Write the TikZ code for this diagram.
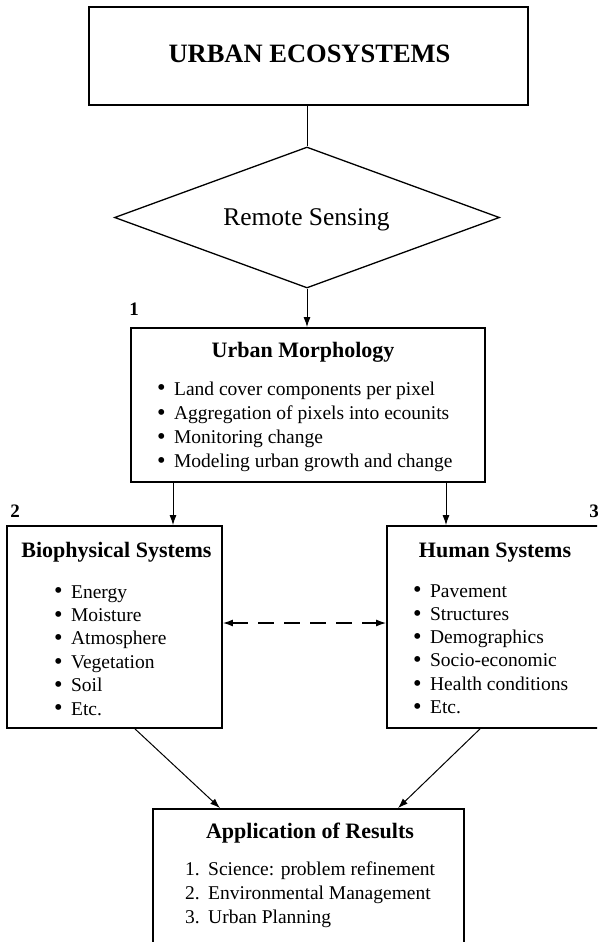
\documentclass[tikz,border=0pt]{standalone}
\usepackage{fontspec}
\setmainfont{Liberation Serif}
\usetikzlibrary{shapes.geometric,arrows.meta}
\newcommand\itembul{\raisebox{-0.8pt}{\scalebox{1.25}{\textbullet}}\hspace{8.6pt}}
\begin{document}
\begin{tikzpicture}[x=1pt,y=-1pt,
  box/.style={draw, line width=1.8pt, rectangle, inner sep=0pt},
  ttl/.style={font=\fontsize{22}{26}\selectfont\bfseries, anchor=base, inner sep=0pt},
  itm/.style={font=\fontsize{19.5}{23}\selectfont, anchor=base west, inner sep=0pt},
  num/.style={font=\fontsize{19}{22}\selectfont\bfseries, anchor=base, inner sep=0pt},
  link/.style={line width=1pt, -{Latex[length=10pt,width=7pt]}},
  twoway/.style={line width=1.3pt, dash pattern=on 16pt off 10pt,
    {Latex[length=10pt,width=7pt]}-{Latex[length=10pt,width=7pt]}},
]
\useasboundingbox (0,0) rectangle (597,942);
\clip (0,0) rectangle (597,942);

% frames
\node[box, line width=2pt, minimum width=439pt, minimum height=98pt] (eco) at (308.5,56) {};
\node[draw, diamond, shape aspect=2.73, line width=1.3pt, inner sep=0pt,
      minimum width=385pt, minimum height=141pt] (rs) at (307,217.5) {};
\node[box, minimum width=354pt, minimum height=154pt] (morph) at (308,405) {};
\node[box, minimum width=215pt, minimum height=202pt] (bio) at (114.5,627) {};
\node[box, minimum width=219pt, minimum height=202pt] (human) at (496.5,627) {};
\node[box, minimum width=311pt, minimum height=151pt] (app) at (308.5,884.5) {};

% headings
\node[anchor=base, inner sep=0pt, font=\fontsize{26.5}{30}\selectfont\bfseries]
  (ecot) at (309.5,63) {URBAN ECOSYSTEMS};
\node[anchor=base, inner sep=0pt, font=\fontsize{25.5}{30}\selectfont]
  (rst) at (306.5,225) {Remote Sensing};
\node[ttl] (morpht) at (303,357) {Urban Morphology};
\node[ttl] (biot) at (116.5,557) {Biophysical Systems};
\node[ttl] (humant) at (495,557) {Human Systems};
\node[ttl] (appt) at (310,838) {Application of Results};

% numbers
\node[num] (n1) at (134,315) {1};
\node[num] (n2) at (15,517) {2};
\node[num] (n3) at (594,517) {3};

% lists
\foreach \t [count=\i] in {Land cover components per pixel,
    Aggregation of pixels into ecounits, Monitoring change,
    Modeling urban growth and change}
  \node[itm] (m\i) at (156.8,{395+24.3*(\i-1)}) {\itembul\t};
\foreach \t [count=\i] in {Energy, Moisture, Atmosphere, Vegetation, Soil, Etc.}
  \node[itm] (b\i) at (53.8,{598+23.4*(\i-1)}) {\itembul\t};
\foreach \t [count=\i] in {Pavement, Structures, Demographics, Socio-economic,
    Health conditions, Etc.}
  \node[itm] (h\i) at (412.8,{597+23.3*(\i-1)}) {\itembul\t};
\node[itm] (a1) at (185,875) {\makebox[23pt][l]{1.}Science: problem refinement};
\node[itm] (a2) at (185,899) {\makebox[23pt][l]{2.}Environmental Management};
\node[itm] (a3) at (185,923) {\makebox[23pt][l]{3.}Urban Planning};

% connectors
\draw[line width=1pt] (rs.north) -- (rs.north |- eco.south);
\draw[link] (rs.south) -- (rs.south |- morph.north);
\draw[link] ([xshift=-135pt]morph.south) -- ([xshift=-135pt]morph.south |- bio.north);
\draw[link] ([xshift=138pt]morph.south) -- ([xshift=138pt]morph.south |- human.north);
\draw[twoway] ([yshift=4pt]bio.east) -- ([yshift=4pt]bio.east -| human.west);
\draw[link] ([xshift=20.5pt]bio.south) -- ([xshift=-88.5pt]app.north);
\draw[link] ([xshift=-16.5pt]human.south) -- ([xshift=89.5pt]app.north);
\end{tikzpicture}
\end{document}
